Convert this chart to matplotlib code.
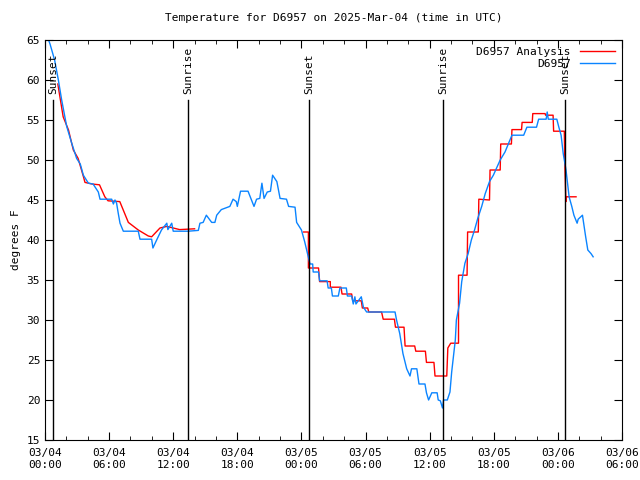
import numpy as np
import matplotlib
matplotlib.use('Agg')
import matplotlib.pyplot as plt

# Datos: horas desde 03/04 00:00 UTC y temperatura (F)
obs_horas = [0.2, 0.47, 0.9, 1.25, 1.56, 2.03, 2.5, 2.96, 3.3, 3.59, 4.06, 4.5, 4.99, 5.15,
             6.24, 6.4, 6.55, 6.7, 6.86, 7.02, 7.33, 8.73, 8.89, 9.98, 10.1, 10.45, 10.9,
             11.4, 11.5, 11.86, 12.0, 13.4, 14.35, 14.5, 14.8, 15.1, 15.6, 15.9, 16.07,
             16.5, 17.3, 17.6, 17.9, 18.0, 18.3, 19.0, 19.56, 19.8, 20.1, 20.3, 20.5, 20.8,
             21.1, 21.3, 21.7, 22.0, 22.6, 22.8, 23.4, 23.55, 24.0, 24.3, 24.6, 24.8, 25.05,
             25.1, 25.6, 25.7, 26.4, 26.5, 26.8, 26.9, 27.45, 27.6, 28.2, 28.3, 28.7, 28.85,
             29.0, 29.1, 29.6, 29.8, 30.1, 32.76, 32.9, 33.2, 33.5, 33.85, 34.16, 34.3, 34.8,
             35.0, 35.56, 35.7, 35.9, 36.2, 36.7, 36.8, 37.0, 37.2, 37.3, 37.65, 37.9, 38.06,
             38.4, 38.5, 38.8, 39.0, 39.3, 39.6, 39.9, 40.2, 40.5, 40.87, 41.2, 41.6, 41.96,
             42.6, 43.05, 43.7, 44.8, 45.1, 46.0, 46.2, 46.9, 47.0, 47.1, 47.9, 48.07, 48.3,
             48.5, 48.76, 49.05, 49.3, 49.5, 49.8, 49.9, 50.3, 50.6, 50.8, 51.1, 51.3]
obs_temp = [65.5, 64.5, 62.5, 60.0, 57.5, 54.2, 52.1, 50.2, 49.5, 48.1, 47.1, 47.0, 46.0, 45.1,
            45.1, 44.5, 45.0, 44.6, 43.3, 42.1, 41.1, 41.1, 40.1, 40.1, 39.0, 40.0, 41.25,
            42.1, 41.3, 42.1, 41.1, 41.1, 41.2, 42.1, 42.2, 43.1, 42.2, 42.2, 43.1,
            43.8, 44.2, 45.1, 44.8, 44.2, 46.1, 46.1, 44.2, 45.1, 45.2, 47.1, 45.2, 46.0,
            46.1, 48.1, 47.3, 45.2, 45.1, 44.2, 44.1, 42.2, 41.25, 39.8, 38.1, 37.0, 37.0,
            36.0, 36.0, 34.9, 34.9, 34.0, 34.0, 33.0, 33.0, 34.0, 34.0, 33.0, 33.0, 32.0,
            32.9, 32.0, 32.9, 31.6, 31.0, 31.0, 30.0, 28.3, 25.8, 23.9, 23.0, 23.9, 23.9,
            22.0, 22.0, 20.9, 20.0, 20.9, 20.9, 20.0, 19.9, 19.0, 20.0, 20.0, 21.0, 23.5,
            27.5, 30.0, 32.1, 34.8, 37.1, 38.3, 40.0, 41.25, 42.7, 44.2, 45.8, 47.3, 48.1,
            50.0, 51.0, 53.1, 53.1, 54.1, 54.1, 55.1, 55.1, 56.0, 55.1, 55.1, 54.2, 53.1,
            50.8, 48.75, 45.4, 44.2, 43.1, 42.1, 42.6, 43.1, 40.4, 38.75, 38.3, 37.9]

# Analisis (NaN = hueco)
ana_horas = [1.2, 1.7, 2.2, 2.65, 3.1, 3.6, 3.74, 4.4, 5.1, 5.6, 5.9, 7.0, 7.8, 8.73, 9.67,
             9.98, 10.76, 11.4, 12.6, 14.0, 19.0,
             24.2, 24.65, 24.65, 25.6, 25.7, 26.7, 26.7, 27.7, 27.8, 28.7, 28.8, 29.6, 29.7,
             30.2, 30.3, 31.5, 31.65, 32.7, 32.8, 33.6, 33.7, 34.6, 34.7, 35.6, 35.7, 36.4,
             36.5, 37.6, 37.7, 37.97, 38.7, 38.7, 39.5, 39.55, 40.55, 40.6, 41.6, 41.65,
             42.6, 42.65, 43.65, 43.7, 44.6, 44.65, 45.6, 45.65, 46.8, 46.85, 47.55, 47.6,
             48.6, 48.65, 48.75, 48.8, 49.7]
ana_temp = [59.5, 55.4, 53.75, 51.25, 50.2, 47.9, 47.2, 47.0, 46.9, 45.4, 44.9, 44.8, 42.2,
            41.25, 40.5, 40.4, 41.5, 41.7, 41.3, 41.4, np.nan,
            41.0, 41.0, 36.5, 36.5, 34.8, 34.8, 34.1, 34.1, 33.25, 33.25, 32.4, 32.4, 31.5,
            31.5, 31.0, 31.0, 30.1, 30.1, 29.1, 29.1, 26.75, 26.75, 26.1, 26.1, 24.7, 24.7,
            23.0, 23.0, 26.5, 27.1, 27.1, 35.6, 35.6, 41.0, 41.0, 45.1, 45.0, 48.75,
            48.75, 52.0, 52.0, 53.8, 53.8, 54.7, 54.7, 55.8, 55.8, 55.6, 55.6, 53.6,
            53.6, 49.5, 44.8, 45.4, 45.4]

# Salida y puesta del sol
sol_horas = [0.75, 13.38, 24.71, 37.25, 48.67]
sol_nombres = ['Sunset', 'Sunrise', 'Sunset', 'Sunrise', 'Sunset']

xticks = [0, 6, 12, 18, 24, 30, 36, 42, 48, 54]
xlabels = ['03/04\n00:00', '03/04\n06:00', '03/04\n12:00', '03/04\n18:00', '03/05\n00:00',
           '03/05\n06:00', '03/05\n12:00', '03/05\n18:00', '03/06\n00:00', '03/06\n06:00']

plt.rcParams['font.family'] = 'DejaVu Sans Mono'
plt.rcParams['font.size'] = 8

fig = plt.figure(figsize=(6.4, 4.8), dpi=100)
ax = fig.add_axes([45/640, 40/480, 577/640, 400/480])

ax.plot(ana_horas, ana_temp, color='#ff0000', lw=1.0, label='D6957 Analysis')
ax.plot(obs_horas, obs_temp, color='#0a84ff', lw=1.0, label='D6957')

for h, nombre in zip(sol_horas, sol_nombres):
    ax.plot([h, h], [15, 57.5], color='black', lw=1.0)
    ax.text(h, 58.2, nombre, rotation=90, ha='center', va='bottom', fontsize=8)

ax.set_xlim(0, 54)
ax.set_ylim(15, 65)
ax.set_xticks(xticks)
ax.set_xticklabels(xlabels)
ax.set_xticks(np.arange(0, 55, 2), minor=True)
ax.set_yticks(np.arange(15, 66, 5))
ax.tick_params(which='both', direction='in', top=True, right=True)
ax.tick_params(which='major', length=6)
ax.tick_params(which='minor', length=3)
ax.tick_params(axis='x', pad=6)

ax.set_title('Temperature for D6957 on 2025-Mar-04 (time in UTC)', fontsize=8, pad=14)
ax.set_ylabel('degrees F')

ax.legend(loc='upper right', frameon=False, markerfirst=False, handlelength=3.2,
          borderaxespad=0.2, labelspacing=0.2, handletextpad=0.8)

plt.savefig('out.png', dpi=100)
plt.close('all')
